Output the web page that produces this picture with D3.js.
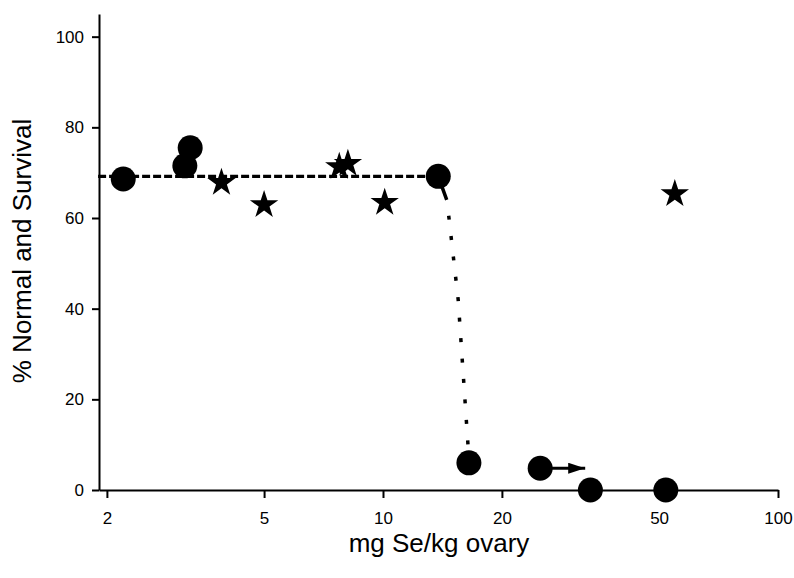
<!DOCTYPE html>
<html><head><meta charset="utf-8">
<script src="https://cdn.jsdelivr.net/npm/d3@7"></script>
<style>body{margin:0;background:#fff}svg{display:block}text{font-family:"Liberation Sans",Arial,sans-serif;fill:#000}</style>
</head><body>
<svg id="c" width="794" height="578"></svg>
<script>
// Data
const circleX = [2.2, 3.15, 3.25, 13.8, 16.5, 25, 33.5, 52];
const circleY = [68.6, 71.5, 75.5, 69.2, 6.0, 4.8, 0, 0];
const starX = [3.9, 5.0, 7.75, 8.15, 10.1, 54.8];
const starY = [67.8, 62.9, 71.3, 72.0, 63.4, 65.3];
const dashX = [1.9, 13.8];
const dashY = [69.2, 69.2];
const dropX = [13.8, 14.5, 14.7, 15.5, 16.4, 16.5];
const dropY = [69.2, 64.0, 59.8, 42.0, 10.4, 6.0];
const arrowX = [25, 32.5];
const arrowY = [4.8, 4.8];
const xTicks = [2, 5, 10, 20, 50, 100];
const yTicks = [0, 20, 40, 60, 80, 100];
const xTitle = "mg Se/kg ovary";
const yTitle = "% Normal and Survival";

const svg = d3.select("#c");
const x = d3.scaleLog().domain([1.91, 100]).range([99, 778]);
const y = d3.scaleLinear().domain([0, 105]).range([490, 14]);

// axes
const xa = svg.append("g").attr("transform", "translate(0,490)")
  .call(d3.axisBottom(x).tickValues(xTicks).tickFormat(d3.format("d")).tickSize(8).tickSizeOuter(0).tickPadding(14));
const ya = svg.append("g").attr("transform", "translate(99,0)")
  .call(d3.axisLeft(y).tickValues(yTicks).tickSize(7).tickSizeOuter(0).tickPadding(8));
[xa, ya].forEach(a => {
  a.selectAll("path,line").attr("stroke", "#000").attr("stroke-width", 2);
  a.selectAll("text").style("font-size", "17px").attr("fill", "#000");
});

// dashed plateau line
const line = d3.line().x(d => x(d[0])).y(d => y(d[1]));
svg.append("path").datum(d3.zip(dashX, dashY)).attr("d", line)
  .attr("fill", "none").attr("stroke", "#000").attr("stroke-width", 3.2).attr("stroke-dasharray", "8,3");

// dotted drop
let da = [25, 16];
for (let i = 0; i < 30; i++) da.push(4, 16.5);
svg.append("path").datum(d3.zip(dropX, dropY)).attr("d", line)
  .attr("fill", "none").attr("stroke", "#000").attr("stroke-width", 3.5).attr("stroke-dasharray", da.join(","));

// arrow
svg.append("defs").append("marker").attr("id", "ah").attr("viewBox", "0 0 17 11")
  .attr("preserveAspectRatio", "none")
  .attr("refX", 17).attr("refY", 5.5).attr("markerWidth", 17).attr("markerHeight", 11)
  .attr("markerUnits", "userSpaceOnUse").attr("orient", "auto")
  .append("path").attr("d", "M0,0L17,5.5L0,11Z").attr("fill", "#000");
svg.append("path").datum(d3.zip(arrowX, arrowY)).attr("d", line)
  .attr("fill", "none").attr("stroke", "#000").attr("stroke-width", 3).attr("marker-end", "url(#ah)");

// circles
svg.append("g").selectAll("circle").data(d3.zip(circleX, circleY)).join("circle")
  .attr("cx", d => x(d[0])).attr("cy", d => y(d[1])).attr("r", 12.5).attr("fill", "#000");

// stars
const star = d3.symbol().type(d3.symbolStar).size(250);
svg.append("g").selectAll("path").data(d3.zip(starX, starY)).join("path")
  .attr("transform", d => `translate(${x(d[0])},${y(d[1])})`).attr("d", star).attr("fill", "#000");

// titles
svg.append("text").attr("x", 439).attr("y", 552).attr("text-anchor", "middle")
  .style("font-size", "26px").text(xTitle);
svg.append("text").attr("transform", "translate(31,251) rotate(-90)").attr("text-anchor", "middle")
  .style("font-size", "26px").text(yTitle);
</script>
</body></html>
